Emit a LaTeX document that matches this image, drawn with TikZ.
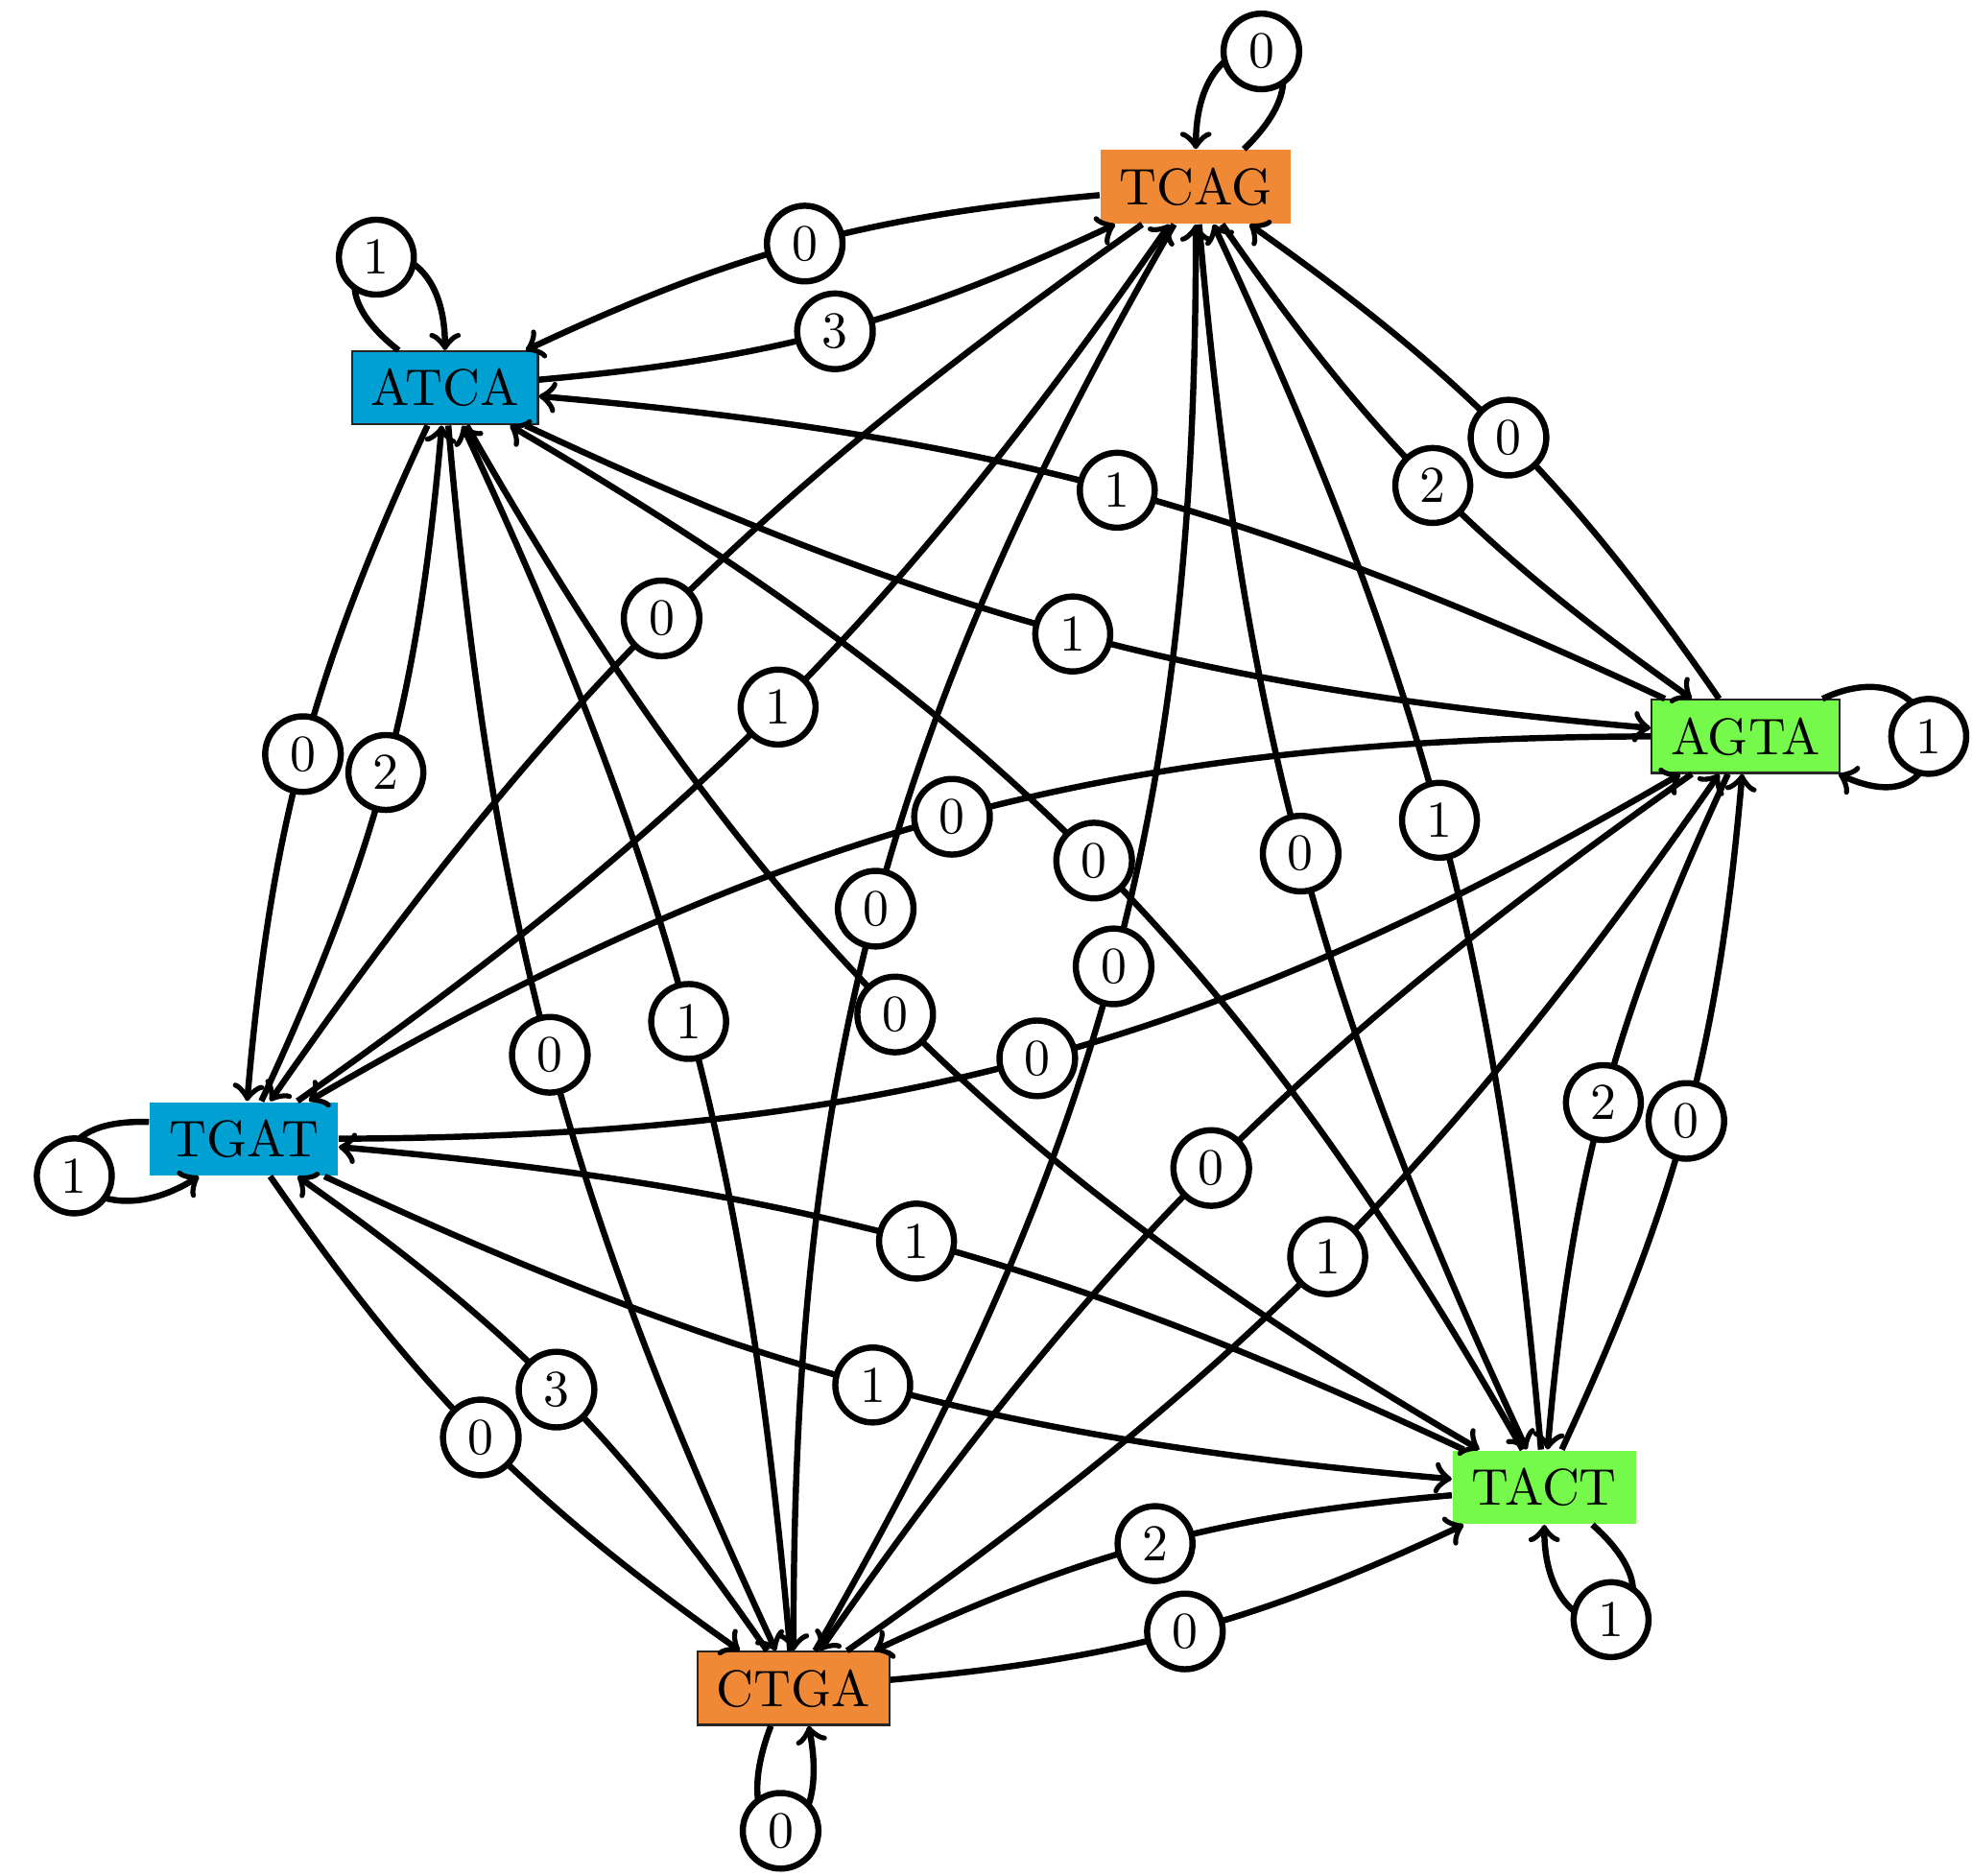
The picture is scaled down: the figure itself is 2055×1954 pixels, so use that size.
\documentclass[tikz,border=0pt]{standalone}
\usetikzlibrary{calc}
\definecolor{corange}{RGB}{239,137,54}
\definecolor{cblue}{RGB}{0,160,210}
\definecolor{cgreen}{RGB}{117,250,76}
\begin{document}
\begin{tikzpicture}[x=0.186pt,y=0.186pt,
  seq/.style={rectangle, inner xsep=3.7pt, inner ysep=3.4pt},
  bordered/.style={draw=black!85, line width=0.4pt},
  lbl/.style={circle, draw=black, fill=white, line width=1.2pt, inner sep=2.2pt},
  edge/.style={->, line width=1.2pt, black},
  bent/.style={edge, bend right=10},
  far/.style={edge, bend right=15}
  ]
\useasboundingbox (0,0) rectangle (2055,1954);
\coordinate (O) at (1036.5,977);
\node[seq, fill=corange] (TCAG) at ($(O)+(75:810)$) {TCAG};
\node[seq, fill=cblue, bordered] (ATCA) at ($(O)+(135:810)$) {ATCA};
\node[seq, fill=cgreen, bordered] (AGTA) at ($(O)+(15:810)$) {AGTA};
\node[seq, fill=cblue] (TGAT) at ($(O)+(195:810)$) {TGAT};
\node[seq, fill=cgreen] (TACT) at ($(O)+(315:810)$) {TACT};
\node[seq, fill=corange, bordered] (CTGA) at ($(O)+(255:810)$) {CTGA};

% self loops
\draw[edge] (TCAG.38) to[out=44, in=90, distance=29.8pt] node[lbl]{0} (TCAG.90);
\draw[edge] (ATCA.141) to[out=142, in=90, distance=29.8pt] node[lbl]{1} (ATCA.90);
\draw[edge] (AGTA.26) to[out=25, in=-25, distance=28pt] node[lbl]{1} (AGTA.-22);
\draw[edge] (TGAT.170) to[out=178, in=212, distance=27.9pt] node[lbl]{1} (TGAT.220);
\draw[edge] (TACT.-38) to[out=-41.5, in=-90, distance=29.5pt] node[lbl]{1} (TACT.-90);
\draw[edge] (CTGA.239) to[out=249, in=281, distance=28.3pt] node[lbl]{0} (CTGA.292);

% edges between nodes
\draw[bent] (TCAG) to node[lbl]{0} (ATCA);
\draw[bent] (ATCA) to node[lbl]{3} (TCAG);
\draw[bent] (TCAG) to node[lbl]{2} (AGTA);
\draw[bent] (AGTA) to node[lbl]{0} (TCAG);
\draw[bent] (TCAG) to node[lbl]{0} (TGAT);
\draw[bent] (TGAT) to node[lbl]{1} (TCAG);
\draw[far] (TCAG) to node[lbl]{0} (CTGA);
\draw[far] (CTGA) to node[lbl]{0} (TCAG);
\draw[bent] (TCAG) to node[lbl]{0} (TACT);
\draw[bent] (TACT) to node[lbl]{1} (TCAG);
\draw[bent] (ATCA) to node[lbl]{1} (AGTA);
\draw[bent] (AGTA) to node[lbl]{1} (ATCA);
\draw[bent] (ATCA) to node[lbl]{0} (TGAT);
\draw[bent] (TGAT) to node[lbl]{2} (ATCA);
\draw[bent] (ATCA) to node[lbl]{0} (CTGA);
\draw[bent] (CTGA) to node[lbl]{1} (ATCA);
\draw[far] (ATCA) to node[lbl]{0} (TACT);
\draw[far] (TACT) to node[lbl]{0} (ATCA);
\draw[far] (AGTA) to node[lbl]{0} (TGAT);
\draw[far] (TGAT) to node[lbl]{0} (AGTA);
\draw[bent] (AGTA) to node[lbl]{0} (CTGA);
\draw[bent] (CTGA) to node[lbl]{1} (AGTA);
\draw[bent] (AGTA) to node[lbl]{2} (TACT);
\draw[bent] (TACT) to node[lbl]{0} (AGTA);
\draw[bent] (TGAT) to node[lbl]{0} (CTGA);
\draw[bent] (CTGA) to node[lbl]{3} (TGAT);
\draw[bent] (TGAT) to node[lbl]{1} (TACT);
\draw[bent] (TACT) to node[lbl]{1} (TGAT);
\draw[bent] (CTGA) to node[lbl]{0} (TACT);
\draw[bent] (TACT) to node[lbl]{2} (CTGA);
\end{tikzpicture}
\end{document}
